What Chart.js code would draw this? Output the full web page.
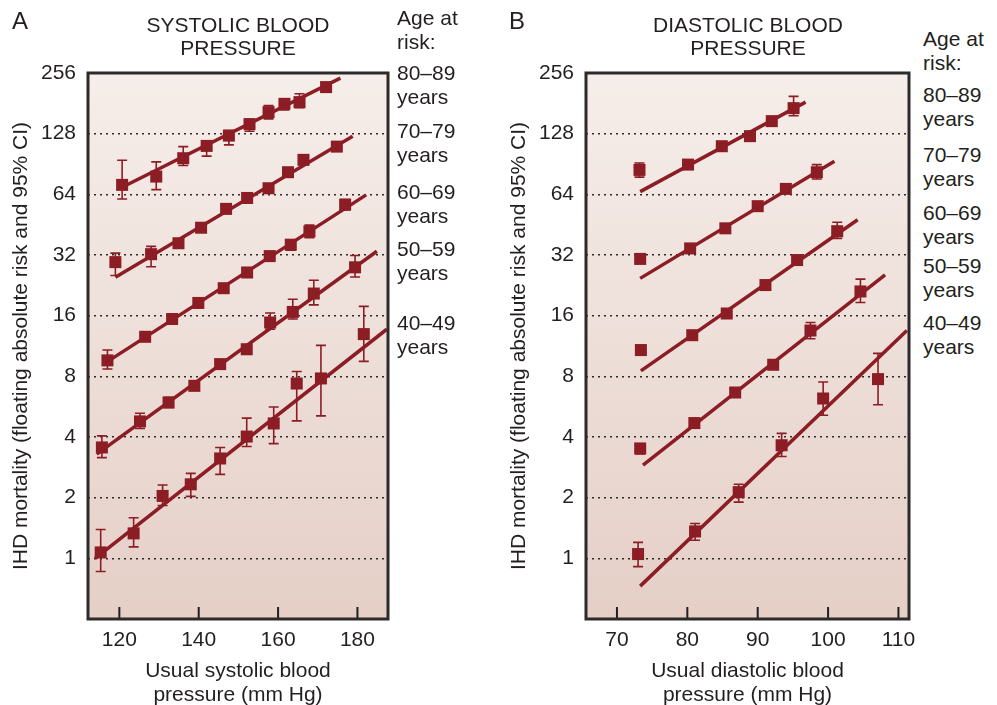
<!DOCTYPE html>
<html>
<head>
<meta charset="utf-8">
<script src="https://cdn.jsdelivr.net/npm/chart.js@4.4.1/dist/chart.umd.min.js"></script>
<style>
  body { margin: 0; background: #fff; }
  #wrap { position: relative; width: 997px; height: 705px; font-family: "Liberation Sans", Arial, sans-serif; color: #231f20; }
  canvas { position: absolute; top: 0; }
  .txt { position: absolute; font-size: 21px; line-height: 24px; white-space: nowrap; }
  .ttl { text-align: center; line-height: 23px; transform: translateX(-50%); }
  .letter { font-size: 24px; }
</style>
</head>
<body>
<div id="wrap">
  <canvas id="sys" width="400" height="705" style="left:0"></canvas>
  <canvas id="dia" width="420" height="705" style="left:498px"></canvas>

  <div class="txt letter" style="left:12px;top:9px">A</div>
  <div class="txt letter" style="left:509px;top:9px">B</div>
  <div class="txt ttl" style="left:238px;top:13px">SYSTOLIC BLOOD<br>PRESSURE</div>
  <div class="txt ttl" style="left:748px;top:13px">DIASTOLIC BLOOD<br>PRESSURE</div>

  <div class="txt" style="left:397px;top:6px">Age at<br>risk:</div>
  <div class="txt" style="left:397px;top:61px">80–89<br>years</div>
  <div class="txt" style="left:397px;top:119px">70–79<br>years</div>
  <div class="txt" style="left:397px;top:180px">60–69<br>years</div>
  <div class="txt" style="left:397px;top:237px">50–59<br>years</div>
  <div class="txt" style="left:397px;top:311px">40–49<br>years</div>

  <div class="txt" style="left:923px;top:27px">Age at<br>risk:</div>
  <div class="txt" style="left:923px;top:83px">80–89<br>years</div>
  <div class="txt" style="left:923px;top:143px">70–79<br>years</div>
  <div class="txt" style="left:923px;top:201px">60–69<br>years</div>
  <div class="txt" style="left:923px;top:254px">50–59<br>years</div>
  <div class="txt" style="left:923px;top:311px">40–49<br>years</div>
</div>
<script>
// age groups, bottom to top: 40-49, 50-59, 60-69, 70-79, 80-89
const ageGroups = ['40–49', '50–59', '60–69', '70–79', '80–89'];
const yTicks = [1, 2, 4, 8, 16, 32, 64, 128, 256];

// systolic panel
const sysTicks = [120, 140, 160, 180];
const sysX = [
  [115.3, 123.6, 130.9, 138.0, 145.4, 152.1, 158.9, 164.7, 170.8, 181.6],
  [115.6, 125.2, 132.4, 138.9, 145.4, 152.1, 158.0, 163.7, 169.0, 179.4],
  [117.0, 126.5, 133.3, 139.9, 146.3, 152.2, 157.9, 163.2, 167.9, 176.9],
  [119.0, 128.0, 134.9, 140.6, 146.9, 152.2, 157.6, 162.5, 166.4, 174.8],
  [120.7, 129.3, 136.1, 142.0, 147.6, 152.8, 157.6, 161.6, 165.4, 172.1]
];
const sysY = [
  [1.07, 1.33, 2.04, 2.33, 3.13, 4.02, 4.67, 7.37, 7.81, 12.96],
  [3.55, 4.78, 5.93, 7.18, 9.2, 10.9, 14.8, 16.7, 20.6, 27.8],
  [9.6, 12.57, 15.4, 18.5, 21.9, 26.2, 31.6, 36.0, 41.9, 56.9],
  [29.5, 32.3, 36.6, 43.7, 54.2, 61.4, 68.6, 82.4, 94.9, 110.4],
  [71.3, 78.4, 96.7, 111.3, 125.2, 142.7, 163.7, 180, 183.5, 217.9]
];
const sysLo = [
  [0.86, 1.14, 1.83, 2.03, 2.61, 3.59, 3.71, 4.81, 5.09, 9.49],
  [3.16, 4.41, 5.6, 6.8, 8.9, 10.4, 13.7, 15.4, 18.1, 24.9],
  [8.7, 12.0, 14.9, 17.9, 21.2, 25.4, 30.6, 33.8, 39.0, 53.5],
  [25.3, 28.0, 35.0, 42.5, 52.8, 60, 67, 80, 92, 108],
  [60.7, 67.5, 88.9, 99, 112.6, 131.6, 151.6, 168, 172, 214]
];
const sysHi = [
  [1.39, 1.59, 2.31, 2.64, 3.55, 4.96, 5.64, 8.46, 11.4, 17.8],
  [4.05, 5.25, 6.3, 7.6, 9.5, 11.5, 16.5, 19.3, 24.0, 31.8],
  [10.8, 13.2, 15.9, 19.1, 22.6, 27.0, 32.6, 38.0, 45.0, 60.3],
  [32.7, 35.3, 38.5, 45, 55.6, 63, 70.3, 85, 97.5, 113],
  [94.5, 92.7, 110.4, 117, 132.5, 151, 176.6, 190.6, 201.8, 222]
];
// fitted line ends
const sysFitX = [[113.9, 187.4], [114.3, 184.9], [116.0, 182.2], [119.0, 178.8], [120.7, 175.7]];
const sysFitY = [[1.0, 13.7], [3.29, 33.4], [9.2, 63.6], [24.8, 124.4], [69.4, 241.5]];

// diastolic panel
const diaTicks = [70, 80, 90, 100, 110];
const diaX = [
  [73.0, 81.1, 87.3, 93.4, 99.3, 107.1],
  [73.3, 81.0, 86.8, 92.2, 97.5, 104.6],
  [73.4, 80.7, 85.6, 91.1, 95.6, 101.3],
  [73.3, 80.4, 85.4, 90.0, 94.0, 98.4],
  [73.2, 80.1, 84.9, 88.9, 92.0, 95.1]
];
const diaY = [
  [1.05, 1.36, 2.13, 3.64, 6.21, 7.75],
  [3.51, 4.69, 6.65, 9.13, 13.5, 21.1],
  [10.8, 12.8, 16.4, 22.7, 30.2, 42.0],
  [30.6, 34.5, 43.4, 55.9, 68.1, 82.4],
  [84.6, 89.9, 110.9, 124.4, 147.7, 171.3]
];
const diaLo = [
  [0.91, 1.23, 1.9, 3.2, 5.13, 5.78],
  [3.3, 4.5, 6.4, 8.8, 12.3, 18.6],
  [10.4, 12.4, 15.9, 22.0, 29.3, 38.7],
  [29.6, 33.4, 42.1, 54.3, 66.2, 76.3],
  [77.9, 87, 107.5, 120.5, 141, 157]
];
const diaHi = [
  [1.2, 1.49, 2.33, 4.17, 7.5, 10.4],
  [3.7, 4.9, 6.9, 9.5, 14.8, 24.3],
  [11.2, 13.2, 16.9, 23.4, 31.1, 46.5],
  [31.6, 35.6, 44.7, 57.5, 70.1, 89.9],
  [91.6, 93, 114.5, 128.5, 154, 196]
];
const diaFitX = [[73.3, 111.2], [73.7, 108.1], [73.4, 104.2], [73.3, 100.9], [73.3, 96.8]];
const diaFitY = [[0.728, 13.5], [2.9, 25.5], [8.52, 47.9], [24.5, 93.5], [66.0, 183.5]];

const RED = '#8c1d24';
Chart.defaults.font.family = '"Liberation Sans", Arial, sans-serif';
Chart.defaults.font.size = 21;
Chart.defaults.color = '#231f20';

// pink gradient behind plot, frame and inside tick marks
const panelLook = {
  id: 'panelLook',
  beforeDraw(chart) {
    const a = chart.chartArea, ctx = chart.ctx;
    const g = ctx.createLinearGradient(0, a.top, 0, a.bottom);
    g.addColorStop(0, '#f6eeea');
    g.addColorStop(1, '#e5cfc7');
    ctx.save();
    ctx.fillStyle = g;
    ctx.fillRect(a.left, a.top, a.right - a.left, a.bottom - a.top);
    ctx.restore();
  },
  afterDraw(chart) {
    const a = chart.chartArea, ctx = chart.ctx, xs = chart.scales.x;
    ctx.save();
    ctx.strokeStyle = '#231f20';
    ctx.lineWidth = 2;
    xs.ticks.forEach(t => {
      const px = xs.getPixelForValue(t.value);
      ctx.beginPath();
      ctx.moveTo(px, a.bottom);
      ctx.lineTo(px, a.bottom - 12);
      ctx.stroke();
    });
    ctx.strokeStyle = '#2d2a2a';
    ctx.lineWidth = 3;
    ctx.strokeRect(a.left, a.top, a.right - a.left, a.bottom - a.top);
    ctx.restore();
  }
};

// 95% CI bars
const errorBars = {
  id: 'errorBars',
  beforeDatasetsDraw(chart) {
    const ctx = chart.ctx, xs = chart.scales.x, ys = chart.scales.y;
    ctx.save();
    ctx.strokeStyle = RED;
    ctx.lineWidth = 1.6;
    chart.data.datasets.forEach(ds => {
      if (!ds.errLo) return;
      ds.data.forEach((p, i) => {
        const px = xs.getPixelForValue(p.x);
        const y1 = ys.getPixelForValue(ds.errLo[i]);
        const y2 = ys.getPixelForValue(ds.errHi[i]);
        ctx.beginPath();
        ctx.moveTo(px, y1); ctx.lineTo(px, y2);
        ctx.moveTo(px - 5, y1); ctx.lineTo(px + 5, y1);
        ctx.moveTo(px - 5, y2); ctx.lineTo(px + 5, y2);
        ctx.stroke();
      });
    });
    ctx.restore();
  }
};

function makePanel(id, xs, ys, lo, hi, fitX, fitY, ticks, xMin, xMax, xTitle, rightPad) {
  const datasets = [];
  ageGroups.forEach((g, k) => {
    datasets.push({
      type: 'scatter',
      label: g,
      data: xs[k].map((x, i) => ({ x: x, y: ys[k][i] })),
      errLo: lo[k],
      errHi: hi[k],
      pointStyle: 'rect',
      pointRadius: 8.5,
      backgroundColor: RED,
      borderWidth: 0
    });
  });
  ageGroups.forEach((g, k) => {
    datasets.push({
      type: 'line',
      label: g + ' fit',
      data: fitX[k].map((x, i) => ({ x: x, y: fitY[k][i] })),
      borderColor: RED,
      borderWidth: 3.5,
      pointRadius: 0,
      fill: false
    });
  });
  return new Chart(document.getElementById(id).getContext('2d'), {
    type: 'scatter',
    data: { datasets: datasets },
    options: {
      responsive: false,
      animation: false,
      devicePixelRatio: 1,
      layout: { padding: { left: 0, top: 73, right: rightPad, bottom: 0 } },
      plugins: { legend: { display: false }, tooltip: { enabled: false } },
      scales: {
        x: {
          type: 'linear',
          min: xMin,
          max: xMax,
          afterBuildTicks: s => { s.ticks = ticks.map(v => ({ value: v })); },
          afterFit: s => { s.height = 86; },
          grid: { display: false },
          border: { display: false },
          ticks: { padding: 1 },
          title: { display: true, text: xTitle, font: { size: 21, lineHeight: 24 / 21 }, padding: { top: 0, bottom: -2 } }
        },
        y: {
          type: 'logarithmic',
          min: 0.5,
          max: 256,
          afterBuildTicks: s => { s.ticks = yTicks.map(v => ({ value: v })); },
          afterFit: s => { s.width = 88; },
          grid: { color: '#2d2a2a', lineWidth: 1.5, drawTicks: false, borderDash: [2, 4] },
          border: { display: false, dash: [2, 4] },
          ticks: { padding: 12, callback: v => String(v) },
          title: { display: true, text: 'IHD mortality (floating absolute risk and 95% CI)', padding: { top: 9, bottom: 0 } }
        }
      }
    },
    plugins: [panelLook, errorBars]
  });
}

makePanel('sys', sysX, sysY, sysLo, sysHi, sysFitX, sysFitY, sysTicks, 112.1, 187.7,
  ['Usual systolic blood', 'pressure (mm Hg)'], 12);
makePanel('dia', diaX, diaY, diaLo, diaHi, diaFitX, diaFitY, diaTicks, 65.6, 111.5,
  ['Usual diastolic blood', 'pressure (mm Hg)'], 9);
</script>
</body>
</html>
